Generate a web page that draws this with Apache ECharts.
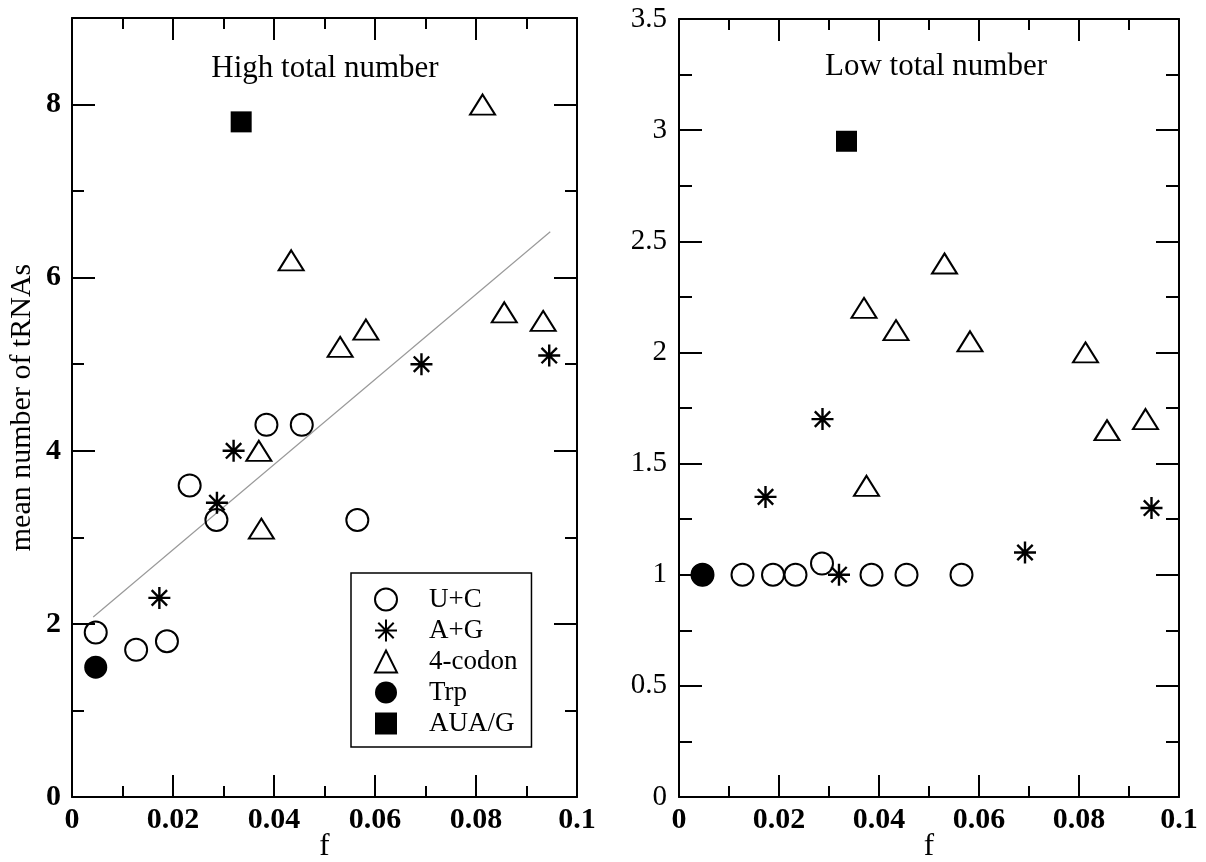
<!DOCTYPE html>
<html>
<head>
<meta charset="utf-8">
<script src="https://cdn.jsdelivr.net/npm/echarts@6/dist/echarts.min.js"></script>
<style>
html,body{margin:0;padding:0;background:#fff;}
#chart{width:1206px;height:862px;}
</style>
</head>
<body>
<div id="chart"></div>
<script>
// ---- data ----
const categories = ['U+C', 'A+G', '4-codon', 'Trp', 'AUA/G'];
const panelTitles = ['High total number', 'Low total number'];
const xTicks = [0, 0.02, 0.04, 0.06, 0.08, 0.1];

const fUC = [0.0047, 0.0127, 0.0188, 0.0233, 0.0286, 0.0385, 0.0455, 0.0565];
const highUC = [1.9, 1.7, 1.8, 3.6, 3.2, 4.3, 4.3, 3.2];
const lowUC = [1.0, 1.0, 1.0, 1.0, 1.05, 1.0, 1.0, 1.0];

const fAG = [0.0173, 0.0287, 0.0320, 0.0692, 0.0945];
const highAG = [2.3, 3.4, 4.0, 5.0, 5.1];
const lowAG = [1.35, 1.7, 1.0, 1.1, 1.3];

const f4 = [0.0370, 0.0375, 0.0434, 0.0531, 0.0582, 0.0813, 0.0856, 0.0933];
const high4 = [4.0, 3.1, 6.2, 5.2, 5.4, 8.0, 5.6, 5.5];
const low4 = [2.2, 1.4, 2.1, 2.4, 2.05, 2.0, 1.65, 1.7];

const fTrp = [0.0047];
const highTrp = [1.5];
const lowTrp = [1.0];

const fAUA = [0.0335];
const highAUA = [7.8];
const lowAUA = [2.95];

const fitF = [0.0042, 0.0947];
const fitHigh = [2.08, 6.53];

// ---- helpers ----
const FONT = "'Liberation Serif','Times New Roman',serif";
const pairs = (xs, ys) => xs.map((x, i) => [x, ys[i]]);
const BLACK = '#000';
const ASTER = 'path://M10,0 L10,20 M0,10 L20,10 M3,3 L17,17 M3,17 L17,3';
const EMPTY = 'rgba(0,0,0,0)';

const styles = {
  'U+C':   { symbol: 'circle', symbolSize: 22, itemStyle: { color: EMPTY, borderColor: BLACK, borderWidth: 2, opacity: 1 } },
  'A+G':   { symbol: ASTER, symbolSize: 22, itemStyle: { color: EMPTY, borderColor: BLACK, borderWidth: 2.4, opacity: 1 } },
  '4-codon': { symbol: 'triangle', symbolSize: [25, 20], itemStyle: { color: EMPTY, borderColor: BLACK, borderWidth: 2, opacity: 1 } },
  'Trp':   { symbol: 'circle', symbolSize: 23, itemStyle: { color: BLACK, borderColor: BLACK, borderWidth: 0, opacity: 1 } },
  'AUA/G': { symbol: 'rect', symbolSize: 21, itemStyle: { color: BLACK, borderColor: BLACK, borderWidth: 0, opacity: 1 } }
};

const panelData = [
  { 'U+C': pairs(fUC, highUC), 'A+G': pairs(fAG, highAG), '4-codon': pairs(f4, high4), 'Trp': pairs(fTrp, highTrp), 'AUA/G': pairs(fAUA, highAUA) },
  { 'U+C': pairs(fUC, lowUC), 'A+G': pairs(fAG, lowAG), '4-codon': pairs(f4, low4), 'Trp': pairs(fTrp, lowTrp), 'AUA/G': pairs(fAUA, lowAUA) }
];

const lineStyle = { color: BLACK, width: 2 };
function xAxisDef(gridIndex, position, showLabel, name) {
  return {
    type: 'value', gridIndex, position, min: 0, max: 0.1, interval: 0.02,
    name: name || '', nameLocation: 'middle', nameGap: 34, nameMoveOverlap: false,
    nameTextStyle: { fontFamily: FONT, fontSize: 31, color: BLACK },
    axisLine: { show: true, onZero: false, lineStyle },
    axisTick: { show: true, inside: true, length: 22, lineStyle },
    minorTick: { show: true, splitNumber: 2, length: 11, lineStyle },
    splitLine: { show: false }, minorSplitLine: { show: false },
    axisLabel: { show: showLabel, fontFamily: FONT, fontSize: 30, fontWeight: 'bold', color: BLACK, margin: 8,
      formatter: v => xTicks.some(t => Math.abs(t - v) < 1e-9) ? String(+v.toFixed(2)) : '' }
  };
}
function yAxisDef(gridIndex, position, opts) {
  return Object.assign({
    type: 'value', gridIndex, position,
    axisLine: { show: true, onZero: false, lineStyle },
    splitLine: { show: false }, minorSplitLine: { show: false },
    axisLabel: { show: false }
  }, opts);
}

const leftLabelY = { show: true, fontFamily: FONT, fontSize: 30, fontWeight: 'bold', color: BLACK, margin: 11,
  formatter: v => (v % 2 === 0 && v < 9) ? String(v) : '' };

const grids = [
  { left: 72, top: 18, width: 505, height: 779, outerBoundsMode: 'none', containLabel: false },
  { left: 679, top: 19, width: 500, height: 778, outerBoundsMode: 'none', containLabel: false },
  { left: 72, top: 18, width: 505, height: 779, outerBoundsMode: 'none', containLabel: false } // overlay: major y ticks of left panel
];

const xAxes = [
  xAxisDef(0, 'bottom', true, 'f'), xAxisDef(0, 'top', false),
  xAxisDef(1, 'bottom', true, 'f'), xAxisDef(1, 'top', false),
  { type: 'value', gridIndex: 2, min: 0, max: 0.1, show: false }
];
const yAxes = [
  // left panel, minor ticks every 1 with labels on even values
  yAxisDef(0, 'left', { min: 0, max: 9, interval: 1, axisTick: { inside: true, length: 12, lineStyle }, axisLabel: leftLabelY,
    name: 'mean number of tRNAs', nameLocation: 'middle', nameGap: 35, nameMoveOverlap: false,
    nameTextStyle: { fontFamily: FONT, fontSize: 30, color: BLACK } }),
  yAxisDef(0, 'right', { min: 0, max: 9, interval: 1, axisTick: { inside: true, length: 12, lineStyle } }),
  // right panel
  yAxisDef(1, 'left', { min: 0, max: 3.5, interval: 0.5,
    axisTick: { inside: true, length: 23, lineStyle },
    minorTick: { show: true, splitNumber: 2, length: 13, lineStyle },
    axisLabel: { show: true, fontFamily: FONT, fontSize: 29, color: BLACK, margin: 12 } }),
  yAxisDef(1, 'right', { min: 0, max: 3.5, interval: 0.5,
    axisTick: { inside: true, length: 23, lineStyle },
    minorTick: { show: true, splitNumber: 2, length: 13, lineStyle } }),
  // overlay: major ticks every 2 for the left panel
  yAxisDef(2, 'left', { min: 0, max: 9, interval: 2, axisLine: { show: false }, axisTick: { inside: true, length: 23, lineStyle } }),
  yAxisDef(2, 'right', { min: 0, max: 9, interval: 2, axisLine: { show: false }, axisTick: { inside: true, length: 23, lineStyle } })
];

const series = [];
series.push({
  name: 'fit', type: 'line', xAxisIndex: 0, yAxisIndex: 0, data: pairs(fitF, fitHigh),
  showSymbol: false, silent: true, lineStyle: { color: '#9a9a9a', width: 1.2 }, z: 1
});
panelData.forEach((pd, p) => {
  categories.forEach(c => {
    series.push(Object.assign({
      name: c, type: 'scatter', xAxisIndex: p * 2, yAxisIndex: p === 0 ? 0 : 2,
      data: pd[c], z: (c === 'Trp' || c === 'AUA/G') ? 3 : 2
    }, styles[c]));
  });
});

const chart = echarts.init(document.getElementById('chart'), null, { renderer: 'canvas' });
chart.setOption({
  backgroundColor: '#fff',
  animation: false,
  title: [
    { text: panelTitles[0], left: 320, top: 48, textAlign: 'center',
      textStyle: { fontFamily: FONT, fontSize: 31, fontWeight: 'normal', color: BLACK } },
    { text: panelTitles[1], left: 931, top: 46, textAlign: 'center',
      textStyle: { fontFamily: FONT, fontSize: 31, fontWeight: 'normal', color: BLACK } }
  ],
  grid: grids,
  xAxis: xAxes,
  yAxis: yAxes,
  legend: {
    data: categories, orient: 'vertical', left: 351, top: 573,
    itemWidth: 22, itemHeight: 22, itemGap: 4,
    padding: [13, 14, 10, 23],
    borderColor: BLACK, borderWidth: 1.5, backgroundColor: 'rgba(255,255,255,0)',
    selectedMode: false,
    formatter: name => '{t|' + name + '}',
    textStyle: { rich: { t: { fontFamily: FONT, fontSize: 27, color: BLACK, lineHeight: 22, padding: [0, 0, 0, 27] } } }
  },
  series
});
</script>
</body>
</html>
